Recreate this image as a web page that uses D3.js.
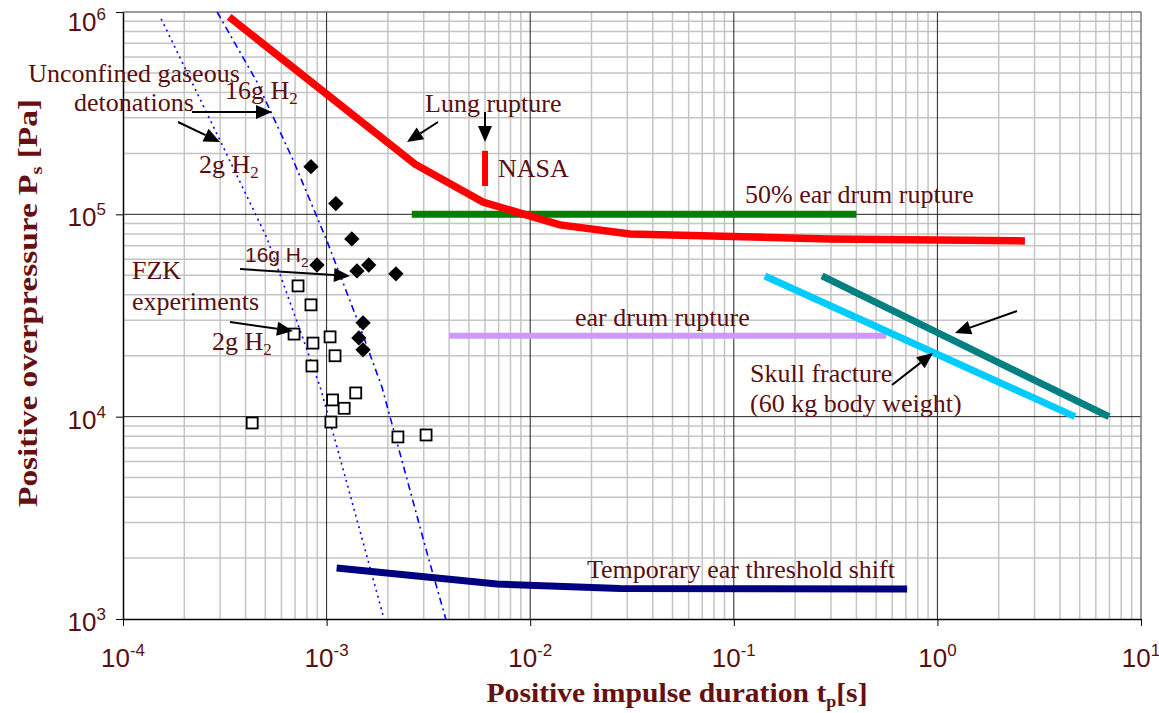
<!DOCTYPE html>
<html lang="en">
  <head>
    <meta charset="utf-8">
    <title>Blast overpressure damage criteria</title>
    <style type="text/css">
      body { margin: 0; background: #fff; }
      svg { display: block; }
    </style>
  </head>
  <body>
    <script type="text/javascript" src="https://d3js.org/d3.v7.min.js"></script>
    <script type="text/javascript">
    // ===================================
    // DATA  (t in s, p in Pa)
    // ===================================
      var xExp = [-4, -3, -2, -1, 0, 1];
      var yExp = [3, 4, 5, 6];

      var lungT = [3.32e-4, 2.72e-3, 5.86e-3, 0.014, 0.0309, 0.296, 2.69];
      var lungP = [9.46e5, 1.77e5, 1.15e5, 8.87e4, 8.0e4, 7.56e4, 7.39e4];

      var nasaT = [6.0e-3, 6.0e-3];
      var nasaP = [2.06e5, 1.38e5];

      var ear50T = [2.62e-3, 0.40];
      var ear50P = [1e5, 1e5];

      var earT = [4.0e-3, 0.56];
      var earP = [2.51e4, 2.51e4];

      var tempT = [1.12e-3, 6.87e-3, 0.0276, 0.71];
      var tempP = [1787, 1489, 1415, 1406];

      var skullAT = [0.142, 4.74];
      var skullAP = [4.96e4, 1.0e4];
      var skullBT = [0.271, 6.96];
      var skullBP = [4.96e4, 1.0e4];

      var h2smallT = [1.54e-4, 2.99e-4, 5.09e-4, 7.4e-4, 9.3e-4, 1.16e-3, 1.89e-3];
      var h2smallP = [9.25e5, 2.33e5, 7.65e4, 2.68e4, 1.40e4, 6.32e3, 1.05e3];
      var h2bigT = [2.9e-4, 4.55e-4, 6.84e-4, 1.0e-3, 1.46e-3, 1.87e-3, 2.34e-3, 3.15e-3, 3.85e-3];
      var h2bigP = [1e6, 4.51e5, 1.86e5, 7.47e4, 2.77e4, 1.40e4, 6.11e3, 2.03e3, 1e3];

      // FZK experiments, 16 g H2 (filled diamonds)
      var fzk16T = [8.38e-4, 1.11e-3, 1.33e-3, 8.97e-4, 1.41e-3, 1.61e-3, 2.19e-3, 1.51e-3, 1.44e-3, 1.51e-3];
      var fzk16P = [1.72e5, 1.13e5, 7.56e4, 5.62e4, 5.25e4, 5.62e4, 5.08e4, 2.91e4, 2.45e4, 2.14e4];
      // FZK experiments, 2 g H2 (open squares)
      var fzk2T = [7.24e-4, 8.38e-4, 6.92e-4, 8.57e-4, 1.04e-3, 1.10e-3, 8.47e-4, 1.07e-3, 1.22e-3, 1.39e-3, 4.31e-4, 1.05e-3, 2.24e-3, 3.08e-3];
      var fzk2P = [4.43e4, 3.57e4, 2.56e4, 2.31e4, 2.48e4, 2.0e4, 1.78e4, 1.21e4, 1.10e4, 1.31e4, 9.31e3, 9.41e3, 7.94e3, 8.12e3];

    // ===================================
    // SETUP
    // ===================================
      var W = 1159, H = 713;
      var pL = 123, pR = 1141, pT = 12, pB = 619;
      var textCol = "#5a0f0f";
      var titleCol = "#661010";

      var x = d3.scaleLog().domain([1e-4, 10]).range([pL, pR]);
      var y = d3.scaleLog().domain([1e3, 1e6]).range([pB, pT]);

      var svg = d3.select("body").append("svg")
        .attr("width", W).attr("height", H);

      // grid values
      var minorX = [], minorY = [];
      for (var e = -4; e < 1; e++) for (var k = 2; k < 10; k++) minorX.push(k * Math.pow(10, e));
      for (var e2 = 3; e2 < 6; e2++) for (var k2 = 2; k2 < 10; k2++) minorY.push(k2 * Math.pow(10, e2));
      var majorX = xExp.map(function(d) { return Math.pow(10, d); });
      var majorY = yExp.map(function(d) { return Math.pow(10, d); });

      var grid = svg.append("g");
      grid.selectAll(".mx").data(minorX).enter().append("line")
        .attr("x1", function(d) { return x(d); }).attr("x2", function(d) { return x(d); })
        .attr("y1", pT).attr("y2", pB)
        .attr("stroke", "#c4c4c4").attr("stroke-width", 1.5);
      grid.selectAll(".my").data(minorY).enter().append("line")
        .attr("y1", function(d) { return y(d); }).attr("y2", function(d) { return y(d); })
        .attr("x1", pL).attr("x2", pR)
        .attr("stroke", "#c4c4c4").attr("stroke-width", 1.5);
      grid.selectAll(".Mx").data(majorX.slice(1, -1)).enter().append("line")
        .attr("x1", function(d) { return x(d); }).attr("x2", function(d) { return x(d); })
        .attr("y1", pT).attr("y2", pB)
        .attr("stroke", "#222").attr("stroke-width", 1);
      grid.selectAll(".My").data(majorY.slice(1, -1)).enter().append("line")
        .attr("y1", function(d) { return y(d); }).attr("y2", function(d) { return y(d); })
        .attr("x1", pL).attr("x2", pR)
        .attr("stroke", "#222").attr("stroke-width", 1);

      // frame
      svg.append("line").attr("x1", pL).attr("x2", pR).attr("y1", pT).attr("y2", pT)
        .attr("stroke", "#7a7a7a").attr("stroke-width", 1.5);
      svg.append("line").attr("x1", pR).attr("x2", pR).attr("y1", pT).attr("y2", pB)
        .attr("stroke", "#7a7a7a").attr("stroke-width", 1.5);

      // axes (decade ticks only)
      var xAxis = d3.axisBottom(x).tickValues(majorX).tickSize(7).tickSizeOuter(0).tickFormat("");
      var yAxis = d3.axisLeft(y).tickValues(majorY).tickSize(7).tickSizeOuter(0).tickFormat("");
      svg.append("g").attr("transform", "translate(0," + pB + ")").call(xAxis)
        .call(function(g) { g.select(".domain").attr("stroke", "#000").attr("stroke-width", 1.5); });
      svg.append("g").attr("transform", "translate(" + pL + ",0)").call(yAxis)
        .call(function(g) { g.select(".domain").attr("stroke", "#000").attr("stroke-width", 1.5); });

      // tick labels 10^n
      var xl = svg.selectAll(".xl").data(xExp).enter().append("text")
        .attr("x", function(d) { return x(Math.pow(10, d)); })
        .attr("y", 667)
        .attr("text-anchor", "middle")
        .attr("font-family", "Liberation Sans, Arial, sans-serif")
        .attr("font-size", 26).attr("fill", textCol);
      xl.append("tspan").text("10");
      xl.append("tspan").attr("dy", -11).attr("font-size", 17).text(function(d) { return d; });

      var yl = svg.selectAll(".yl").data(yExp).enter().append("text")
        .attr("x", 106)
        .attr("y", function(d) { return Math.max(y(Math.pow(10, d)) + 12, 31); })
        .attr("text-anchor", "end")
        .attr("font-family", "Liberation Sans, Arial, sans-serif")
        .attr("font-size", 26).attr("fill", textCol);
      yl.append("tspan").text("10");
      yl.append("tspan").attr("dy", -11).attr("font-size", 17).text(function(d) { return d; });

      // axis titles
      var xt = svg.append("text").attr("x", 677).attr("y", 702)
        .attr("text-anchor", "middle")
        .attr("textLength", 381).attr("lengthAdjust", "spacingAndGlyphs")
        .attr("font-family", "Liberation Serif, Times New Roman, serif")
        .attr("font-weight", "bold").attr("font-size", 28).attr("fill", titleCol);
      xt.append("tspan").text("Positive impulse duration t");
      xt.append("tspan").attr("dy", 5).attr("font-size", 17).text("p");
      xt.append("tspan").attr("dy", -5).text("[s]");

      var yt = svg.append("text")
        .attr("transform", "translate(37,303) rotate(-90)")
        .attr("text-anchor", "middle")
        .attr("textLength", 408).attr("lengthAdjust", "spacingAndGlyphs")
        .attr("font-family", "Liberation Serif, Times New Roman, serif")
        .attr("font-weight", "bold").attr("font-size", 28).attr("fill", titleCol);
      yt.append("tspan").text("Positive overpressure P");
      yt.append("tspan").attr("dy", 5).attr("font-size", 17).text("s");
      yt.append("tspan").attr("dy", -5).text(" [Pa]");

    // ===================================
    // SERIES
    // ===================================
      function pairs(ts, ps) { return ts.map(function(t, i) { return [t, ps[i]]; }); }
      var line = d3.line().x(function(d) { return x(d[0]); }).y(function(d) { return y(d[1]); });
      var plot = svg.append("g");

      function drawLine(ts, ps, col, w, dash) {
        plot.append("path").datum(pairs(ts, ps))
          .attr("d", line).attr("fill", "none")
          .attr("stroke", col).attr("stroke-width", w)
          .attr("stroke-dasharray", dash || null);
      }

      drawLine(h2smallT, h2smallP, "#0000ff", 1.6, "2,4");
      drawLine(h2bigT, h2bigP, "#0000ff", 1.6, "7,4,2,4");

      drawLine(ear50T, ear50P, "#008000", 7);
      drawLine(earT, earP, "#cc99ff", 6);
      drawLine(lungT, lungP, "#ff0000", 7.5);
      drawLine(nasaT, nasaP, "#ff0000", 6);
      drawLine(tempT, tempP, "#000080", 7);
      drawLine(skullAT, skullAP, "#00ccff", 7);
      drawLine(skullBT, skullBP, "#008080", 7);

      plot.selectAll(".dia").data(pairs(fzk16T, fzk16P)).enter().append("path")
        .attr("d", d3.symbol().type(d3.symbolDiamond2).size(150))
        .attr("transform", function(d) { return "translate(" + x(d[0]) + "," + y(d[1]) + ")"; })
        .attr("fill", "#000");
      plot.selectAll(".sq").data(pairs(fzk2T, fzk2P)).enter().append("rect")
        .attr("x", function(d) { return x(d[0]) - 5.5; })
        .attr("y", function(d) { return y(d[1]) - 5.5; })
        .attr("width", 11).attr("height", 11)
        .attr("fill", "#fff").attr("stroke", "#000").attr("stroke-width", 1.8);

    // ===================================
    // ANNOTATIONS
    // ===================================
      var ann = svg.append("g")
        .attr("font-family", "Liberation Serif, Times New Roman, serif")
        .attr("font-size", 26).attr("fill", textCol);

      function label(px, py, str, anchor) {
        return ann.append("text").attr("x", px).attr("y", py)
          .attr("text-anchor", anchor || "start").text(str);
      }
      function h2(px, py, mass, fam, size) {
        var t = ann.append("text").attr("x", px).attr("y", py);
        if (fam) t.attr("font-family", fam);
        if (size) t.attr("font-size", size);
        t.append("tspan").text(mass + " H");
        t.append("tspan").attr("dy", 5).attr("font-size", (size || 26) * 0.65).text("2");
      }
      // line with a filled triangular head at (x2, y2)
      function arrow(x1, y1, x2, y2) {
        var dx = x2 - x1, dy = y2 - y1, len = Math.sqrt(dx * dx + dy * dy);
        var ux = dx / len, uy = dy / len;
        var hl = 16, hw = 7;
        var bx = x2 - ux * hl, by = y2 - uy * hl;
        svg.append("line").attr("x1", x1).attr("y1", y1).attr("x2", bx).attr("y2", by)
          .attr("stroke", "#000").attr("stroke-width", 2);
        svg.append("polygon")
          .attr("points", [[x2, y2], [bx - uy * hw, by + ux * hw], [bx + uy * hw, by - ux * hw]].join(" "))
          .attr("fill", "#000");
      }

      label(134, 82, "Unconfined gaseous", "middle");
      label(134, 111, "detonations", "middle");
      h2(225, 99, "16g");
      h2(199, 173, "2g");
      arrow(192, 112, 272, 112);
      arrow(178, 122, 220, 142);

      label(425, 112, "Lung rupture");
      arrow(438, 122, 407, 142);
      arrow(485, 112, 485, 142);
      label(498, 177, "NASA");

      label(745, 203, "50% ear drum rupture");

      label(132, 279, "FZK");
      label(132, 310, "experiments");
      h2(245, 262, "16g", "Liberation Sans, Arial, sans-serif", 21);
      arrow(240, 269, 350, 276);
      h2(212, 350, "2g");
      arrow(230, 322, 293, 331);

      label(575, 326, "ear drum rupture");

      label(750, 382, "Skull fracture");
      label(750, 412, "(60 kg body weight)");
      arrow(892, 385, 933, 353);
      arrow(1017, 311, 955, 333);

      label(587, 578, "Temporary ear threshold shift");
    </script>
  </body>
</html>
